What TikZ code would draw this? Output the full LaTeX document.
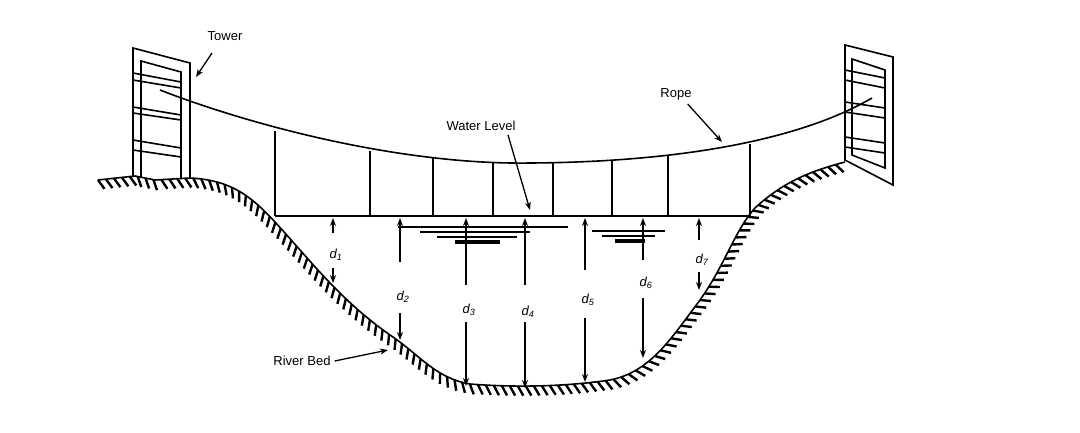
\documentclass[tikz,border=0pt]{standalone}
\usepackage{fontspec}
\setmainfont{Liberation Sans}
\usetikzlibrary{decorations.pathreplacing,arrows.meta}

\begin{document}
\begin{tikzpicture}[x=1pt,y=-1pt,
    line width=1.6pt,
    lbl/.style={font=\fontsize{13}{15}\selectfont},
    dep/.style={font=\fontsize{13}{15}\selectfont\itshape, inner sep=1pt},
    pointer/.style={-{Stealth[length=8pt,width=6pt]}, line width=1.3pt},
    ground/.style={decoration={border,segment length=8pt,amplitude=11pt,angle=-60},
                   postaction={decorate,draw,line width=2.4pt}},
    water/.style={line width=2pt}]

    \useasboundingbox (0,0) rectangle (1080,432);

    % River bed with hatching
    \draw[ground] (98,180) -- (135,176) -- (155,180) -- (190,178)
        .. controls (230,180) and (250,195) .. (275,222)
        .. controls (310,260) and (340,300) .. (390,335)
        .. controls (420,355) and (435,378) .. (470,384)
        .. controls (520,388) and (570,386) .. (610,380)
        .. controls (650,372) and (670,340) .. (700,300)
        .. controls (725,265) and (735,230) .. (755,208)
        .. controls (785,180) and (815,170) .. (845,162);

    % Left tower
    \draw (133,176) -- (133,48) -- (190,63) -- (190,178);
    \draw (141,177) -- (141,61) -- (181,72) -- (181,178);
    \foreach \ya/\yb in {73/82, 80/88, 107/115, 113/120, 140/148, 150/157}
        \draw (133,\ya) -- (181,\yb);

    % Right tower
    \draw (845,160) -- (845,45) -- (893,57) -- (893,185) -- cycle;
    \draw (852,155) -- (852,59) -- (885,70) -- (885,168) -- cycle;
    \foreach \ya/\yb in {70/78, 80/88, 102/108, 112/118, 137/143, 147/153}
        \draw (845,\ya) -- (885,\yb);

    % Rope
    \draw (160,90) .. controls (250,125) and (400,165) .. (530,163)
        .. controls (680,162) and (800,140) .. (872,98);

    % Hangers and platform
    \foreach \x/\yt in {275/131, 370/151, 433/158, 493/162, 553/162, 612/160, 668/155, 750/144}
        \draw (\x,\yt) -- (\x,216);
    \draw[line width=2.4pt] (275,216) -- (750,216);

    % Water level marks
    \draw[water] (398,227) -- (568,227);
    \draw[water] (420,232) -- (530,232);
    \draw[water] (437,237) -- (517,237);
    \draw[line width=3.5pt] (455,242) -- (500,242);
    \draw[water] (592,231) -- (665,231);
    \draw[water] (602,236) -- (655,236);
    \draw[line width=3.5pt] (615,241) -- (645,241);

    % Soundings
    \foreach \i/\x/\ya/\yl/\yb/\yz in {1/333/233/255/268/283, 2/400/262/297/313/340,
            3/466/285/310/322/386, 4/525/285/312/322/388, 5/585/270/300/318/382,
            6/643/260/283/298/358, 7/699/240/260/272/290} {
        \node[dep] (d\i) at (\x+3,\yl) {d\textsubscript{\i}};
        \draw[pointer] (\x,\ya) -- (\x,218);
        \draw[pointer] (\x,\yb) -- (\x,\yz);
    }

    % Labels
    \node[lbl] (tower) at (225,36) {Tower};
    \draw[pointer] (212,53) -- (196,77);
    \node[lbl] (rope) at (676,94) {Rope};
    \draw[pointer] (rope.south east) ++(-8,0) -- (722,142);
    \node[lbl] (wl) at (481,126) {Water Level};
    \draw[pointer] (wl.south) ++(27,0) -- (530,210);
    \node[lbl] (bed) at (302,361) {River Bed};
    \draw[pointer] (bed.east) -- (388,350);
\end{tikzpicture}
\end{document}
